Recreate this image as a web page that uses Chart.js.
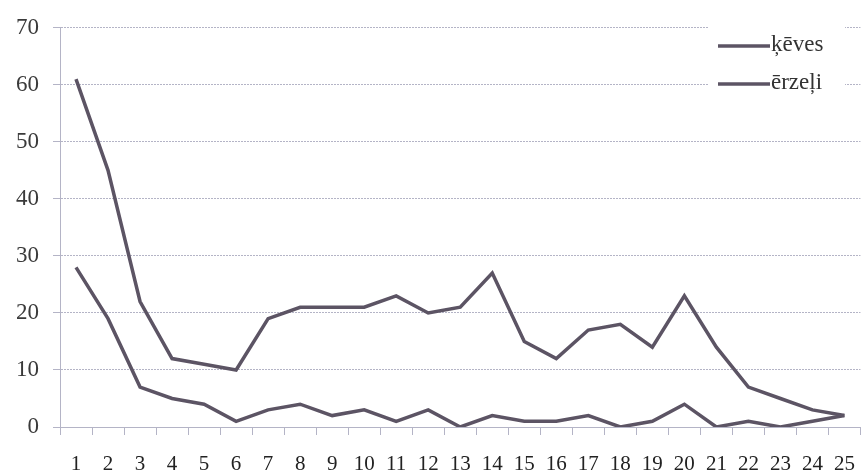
<!DOCTYPE html>
<html>
<head>
<meta charset="utf-8">
<script src="https://cdn.jsdelivr.net/npm/chart.js@4"></script>
<style>
html,body{margin:0;padding:0;background:#fff;overflow:hidden;}
#wrap{position:absolute;left:0;top:0;width:872px;height:473px;}
</style>
</head>
<body>
<div id="wrap"><canvas id="c"></canvas></div>
<script>
const categories = ["1","2","3","4","5","6","7","8","9","10","11","12","13","14","15","16","17","18","19","20","21","22","23","24","25"];
const keves  = [61,45,22,12,11,10,19,21,21,21,23,20,21,27,15,12,17,18,14,23,14,7,5,3,2];
const erzeli = [28,19,7,5,4,1,3,4,2,3,1,3,0,2,1,1,2,0,1,4,0,1,0,1,2];
const seriesNames = ["ķēves","ērzeļi"];
const yTicks = [0,10,20,30,40,50,60,70];

const lineColor = '#5c5464';
const gridColor = '#b4b4c6';
const fontFam = '"Liberation Serif"';
Chart.defaults.font.family = fontFam;

const legendPlugin = {
  id: 'customLegend',
  afterDraw(chart) {
    const ctx = chart.ctx;
    ctx.save();
    ctx.fillStyle = '#ffffff';
    ctx.fillRect(708, 12, 137, 92);
    ctx.font = '23px "Liberation Serif"';
    ctx.textBaseline = 'middle';
    ctx.textAlign = 'left';
    const ys = [46, 84];
    chart.data.datasets.forEach((ds, i) => {
      ctx.strokeStyle = ds.borderColor;
      ctx.lineWidth = 3.5;
      ctx.beginPath();
      ctx.moveTo(718, ys[i]);
      ctx.lineTo(770, ys[i]);
      ctx.stroke();
      ctx.fillStyle = '#333';
      ctx.fillText(ds.label, 771, ys[i] - 1);
    });
    ctx.restore();
  }
};

new Chart(document.getElementById('c'), {
  type: 'line',
  data: {
    labels: categories,
    datasets: [
      {label: seriesNames[0], data: keves, borderColor: lineColor, borderWidth: 3.5, pointRadius: 0, tension: 0, fill: false},
      {label: seriesNames[1], data: erzeli, borderColor: lineColor, borderWidth: 3.5, pointRadius: 0, tension: 0, fill: false}
    ]
  },
  options: {
    responsive: true,
    maintainAspectRatio: false,
    animation: false,
    devicePixelRatio: 1,
    layout: {padding: {top: 24, right: 2, left: 0, bottom: 0}},
    plugins: {legend: {display: false}, tooltip: {enabled: false}},
    scales: {
      x: {
        type: 'category',
        offset: true,
        grid: {display: true, offset: true, drawOnChartArea: false, drawTicks: true, tickLength: 8, color: gridColor, lineWidth: 1},
        border: {display: true, color: gridColor, width: 1},
        ticks: {font: {family: fontFam, size: 21}, color: '#222', padding: 17, maxRotation: 0, autoSkip: false},
        afterFit(s) { s.height = 46; }
      },
      y: {
        min: 0, max: 70,
        afterBuildTicks(s) { s.ticks = yTicks.map(v => ({value: v})); },
        grid: {color: gridColor, lineWidth: 1, tickLength: 7, drawTicks: true},
        border: {display: true, color: gridColor, width: 1, dash: [2,1]},
        ticks: {font: {family: fontFam, size: 23}, color: '#3a3a3a', padding: 14},
        afterFit(s) { s.width = 60; }
      }
    }
  },
  plugins: [legendPlugin]
});
</script>
</body>
</html>
